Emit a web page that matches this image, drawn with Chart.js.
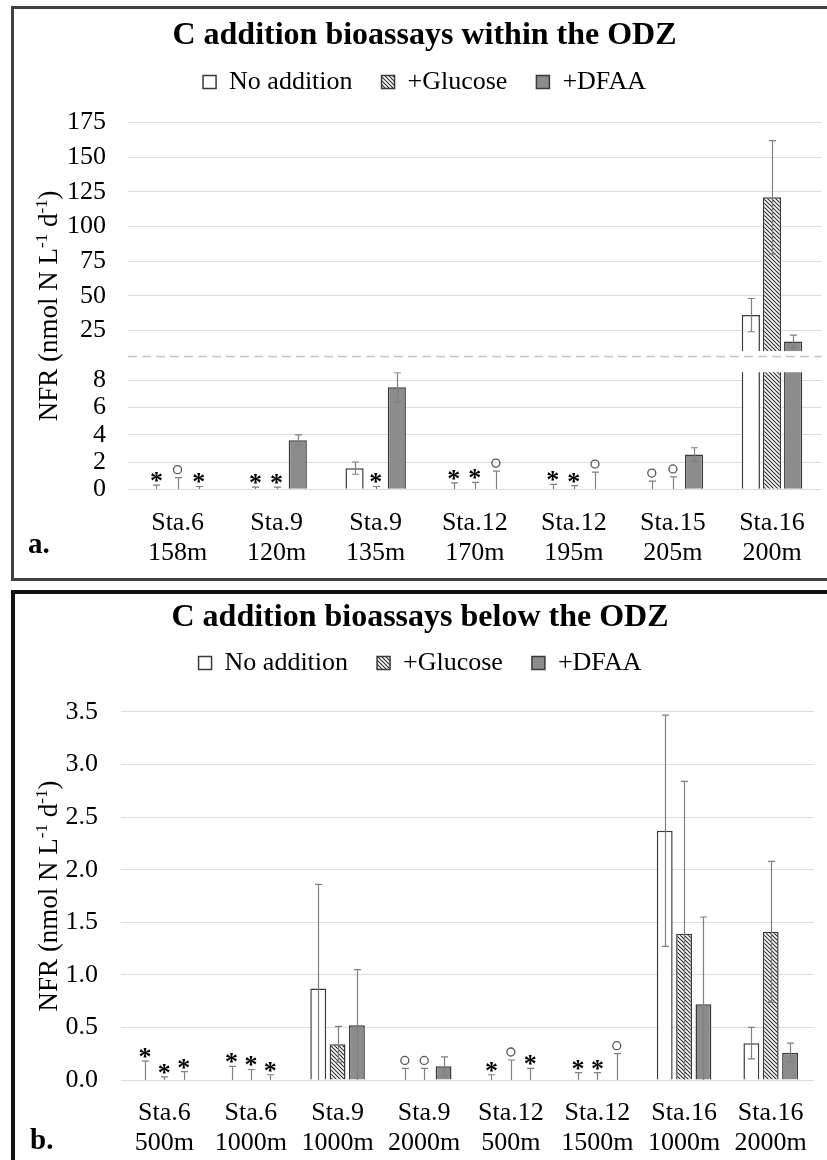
<!DOCTYPE html>
<html>
<head>
<meta charset="utf-8">
<script src="https://cdn.jsdelivr.net/npm/chart.js@4.4.1/dist/chart.umd.min.js"></script>
<style>
  body { margin: 0; background: #fff; width: 827px; height: 1160px; overflow: hidden; position: relative; }
  .panel { position: absolute; box-sizing: border-box; }
  #panelA { left: 11px; top: 6px; width: 830px; height: 575px; border: 3px solid #404040; }
  #panelB { left: 11px; top: 590px; width: 830px; height: 600px; border: 4px solid #111; }
  canvas { position: absolute; }
  #cA { left: 14px; top: 9px; }
  #cB { left: 15px; top: 594px; }
  .tag { position: absolute; font: bold 29px "Liberation Serif", serif; line-height: 1; color: #000; }
</style>
</head>
<body>
<div class="panel" id="panelA"></div>
<div class="panel" id="panelB"></div>
<canvas id="cA" width="810" height="569"></canvas>
<canvas id="cB" width="810" height="566"></canvas>
<div class="tag" style="left:28px; top:529px;">a.</div>
<div class="tag" style="left:30px; top:1125px;">b.</div>
<script>
const family = '"Liberation Serif", "Times New Roman", serif';
const seriesNames = ['No addition', '+Glucose', '+DFAA'];

// --- a. within the ODZ ---
const catsA = [['Sta.6', '158m'], ['Sta.9', '120m'], ['Sta.9', '135m'], ['Sta.12', '170m'],
               ['Sta.12', '195m'], ['Sta.15', '205m'], ['Sta.16', '200m']];
const noAddA     = [0, 0, 1.55, 0, 0, 0, 36];
const noAddErrA  = [0.3, 0.15, 0.45, 0.47, 0.35, 0.6, 12];
const noAddMarkA = ['*', '*', '', '*', '*', 'o', ''];
const glucoseA     = [0, 0, 0, 0, 0, 0, 121];
const glucoseErrA  = [0.85, 0.15, 0.2, 0.5, 0.27, 0.9, 41];
const glucoseMarkA = ['o', '*', '*', '*', '*', 'o', ''];
const dfaaA     = [0, 3.6, 7.5, 0, 0, 2.55, 17];
const dfaaErrA  = [0.2, 0.4, 1.07, 1.33, 1.26, 0.5, 4.6];
const dfaaMarkA = ['*', '', '', 'o', 'o', '', ''];
const ticksTopA = [25, 50, 75, 100, 125, 150, 175];
const ticksLowA = [0, 2, 4, 6, 8];

// --- b. below the ODZ ---
const catsB = [['Sta.6', '500m'], ['Sta.6', '1000m'], ['Sta.9', '1000m'], ['Sta.9', '2000m'],
               ['Sta.12', '500m'], ['Sta.12', '1500m'], ['Sta.16', '1000m'], ['Sta.16', '2000m']];
const noAddB     = [0, 0, 0.87, 0, 0, 0, 2.37, 0.35];
const noAddErrB  = [0.18, 0.13, 0.99, 0.11, 0.05, 0.07, 1.1, 0.15];
const noAddMarkB = ['*', '*', '', 'o', '*', '*', '', ''];
const glucoseB     = [0, 0, 0.34, 0, 0, 0, 1.39, 1.41];
const glucoseErrB  = [0.03, 0.1, 0.17, 0.11, 0.19, 0.07, 1.45, 0.67];
const glucoseMarkB = ['*', '*', '', 'o', 'o', '*', '', ''];
const dfaaB     = [0, 0, 0.52, 0.13, 0, 0, 0.72, 0.26];
const dfaaErrB  = [0.08, 0.05, 0.53, 0.09, 0.11, 0.25, 0.83, 0.09];
const dfaaMarkB = ['*', '*', '', '', '*', 'o', '', ''];
const ticksB = [0, 0.5, 1, 1.5, 2, 2.5, 3, 3.5];

// axis break for panel a
const lowMaxA = 8.6;
const topBaseA = 10;

function hatch() {
  const c = document.createElement('canvas');
  c.width = 4; c.height = 4;
  const g = c.getContext('2d');
  g.fillStyle = '#fff';
  g.fillRect(0, 0, 4, 4);
  g.strokeStyle = '#2b2b2b';
  g.lineWidth = 1.1;
  g.beginPath();
  g.moveTo(-1, -1); g.lineTo(5, 5);
  g.moveTo(3, -1); g.lineTo(5, 1);
  g.moveTo(-1, 3); g.lineTo(1, 5);
  g.stroke();
  return g.createPattern(c, 'repeat');
}
const fills = ['#ffffff', hatch(), '#8c8c8c'];

function bars(label, i, data, err, marks, axis, extra) {
  return Object.assign({
    label: label, data: data, err: err, marks: marks, yAxisID: axis, stack: 's' + i,
    backgroundColor: fills[i], borderColor: '#3a3a3a', borderWidth: 1.5
  }, extra || {});
}

// error bars and */o markers, each dataset clipped to its own y axis band
const errorBars = {
  id: 'errorBars',
  afterDatasetsDraw(chart) {
    const ctx = chart.ctx;
    const area = chart.chartArea;
    chart.data.datasets.forEach((ds, i) => {
      const meta = chart.getDatasetMeta(i);
      const ys = chart.scales[meta.yAxisID];
      ctx.save();
      ctx.beginPath();
      ctx.rect(area.left, ys.top, area.right - area.left, ys.bottom - ys.top);
      ctx.clip();
      ctx.strokeStyle = '#7f7f7f';
      ctx.lineWidth = 1.2;
      meta.data.forEach((bar, j) => {
        const v = ds.data[j];
        if (v === null || v === undefined) return;
        const e = ds.err[j];
        const lo = Math.max(0, v - e);
        const yHi = ys.getPixelForValue(v + e);
        const yLo = ys.getPixelForValue(lo);
        const x = Math.round(bar.x) + 0.5;
        ctx.beginPath();
        ctx.moveTo(x, yLo); ctx.lineTo(x, yHi);
        ctx.moveTo(x - 3.5, yHi); ctx.lineTo(x + 3.5, yHi);
        if (v > 0 && v - e > 0) { ctx.moveTo(x - 3.5, yLo); ctx.lineTo(x + 3.5, yLo); }
        ctx.stroke();
      });
      ctx.restore();
      (ds.marks || []).forEach((m, j) => {
        if (!m) return;
        const bar = meta.data[j];
        const cy = ys.getPixelForValue(ds.data[j] + ds.err[j]) - 8;
        ctx.save();
        if (m === '*') {
          ctx.font = 'bold 26px ' + family;
          ctx.fillStyle = '#000';
          ctx.textAlign = 'center';
          ctx.textBaseline = 'alphabetic';
          const t = ctx.measureText('*');
          ctx.fillText('*', bar.x, cy + (t.actualBoundingBoxAscent - t.actualBoundingBoxDescent) / 2);
        } else {
          ctx.strokeStyle = '#555';
          ctx.lineWidth = 1.3;
          ctx.beginPath();
          ctx.arc(bar.x, cy, 4, 0, Math.PI * 2);
          ctx.stroke();
        }
        ctx.restore();
      });
    });
  }
};

// rotated axis title with superscripts
const yTitle = {
  id: 'yTitle',
  afterDraw(chart, args, opts) {
    const ctx = chart.ctx;
    const parts = [['NFR (nmol N L', false], ['-1', true], [' d', false], ['-1', true], [')', false]];
    const big = '27px ' + family, small = '17px ' + family;
    let total = 0;
    parts.forEach(p => { ctx.font = p[1] ? small : big; total += ctx.measureText(p[0]).width; });
    const cy = (chart.scales[opts.topAxis].getPixelForValue(opts.topValue) +
                chart.scales[opts.bottomAxis].getPixelForValue(0)) / 2;
    ctx.save();
    ctx.translate(opts.x, cy);
    ctx.rotate(-Math.PI / 2);
    ctx.fillStyle = '#000';
    ctx.textAlign = 'left';
    ctx.textBaseline = 'alphabetic';
    let x = -total / 2;
    parts.forEach(p => {
      ctx.font = p[1] ? small : big;
      ctx.fillText(p[0], x, p[1] ? -1 : 9);
      x += ctx.measureText(p[0]).width;
    });
    ctx.restore();
  }
};

// dashed line marking the axis break
const breakLine = {
  id: 'breakLine',
  afterDraw(chart, args, opts) {
    if (!opts.axis) return;
    const ctx = chart.ctx;
    const y = Math.round(chart.scales[opts.axis].getPixelForValue(opts.value)) + 0.5;
    ctx.save();
    ctx.strokeStyle = '#c4c4c4';
    ctx.lineWidth = 1.5;
    ctx.setLineDash([9, 5]);
    ctx.beginPath();
    ctx.moveTo(chart.chartArea.left, y);
    ctx.lineTo(chart.chartArea.right, y);
    ctx.stroke();
    ctx.restore();
  }
};

const xAxis = (pad) => ({
  grid: { display: false, drawTicks: false },
  border: { display: false },
  ticks: { color: '#000', font: { family: family, size: 26, lineHeight: 1.15 }, padding: pad, autoSkip: false, maxRotation: 0 }
});
const yAxis = (extra, tickVals, width, pad, fmt) => Object.assign({
  position: 'left', stacked: false,
  afterBuildTicks: s => { s.ticks = tickVals.map(v => ({ value: v })); },
  afterFit: s => { s.width = width; },
  grid: { color: '#dcdcdc', drawTicks: false },
  border: { display: false },
  ticks: { color: '#000', font: { family: family, size: 26 }, padding: pad, autoSkip: false, callback: fmt || (v => v) }
}, extra);
const titleOpts = (text, top, bottom) => ({
  display: true, text: text, color: '#000',
  font: { family: family, size: 32, weight: 'bold' },
  padding: { top: top, bottom: bottom }
});
const legendOpts = {
  labels: { filter: item => item.datasetIndex < 3, color: '#000', font: { family: family, size: 26 },
            boxWidth: 13, boxHeight: 13, padding: 29 }
};

// panel a: each series twice, once per band of the broken axis
const rawA = [[noAddA, noAddErrA, noAddMarkA], [glucoseA, glucoseErrA, glucoseMarkA], [dfaaA, dfaaErrA, dfaaMarkA]];
const datasetsA = rawA.map((s, i) => bars(seriesNames[i], i, s[0], s[1], s[2], 'yLow'))
  .concat(rawA.map((s, i) => bars(seriesNames[i], i, s[0].map(v => v > lowMaxA ? v : null), s[1], [], 'yTop', { base: topBaseA })));

new Chart(document.getElementById('cA'), {
  type: 'bar',
  data: { labels: catsA, datasets: datasetsA },
  options: {
    responsive: false,
    animation: false,
    categoryPercentage: 0.64,
    barPercentage: 0.86,
    layout: { padding: { left: 13, right: 2, top: 0, bottom: -9 } },
    plugins: {
      title: titleOpts('C addition bioassays within the ODZ', 7.3, -14.6),
      legend: legendOpts,
      tooltip: { enabled: false },
      yTitle: { x: 34, topAxis: 'yTop', topValue: 175, bottomAxis: 'yLow' },
      breakLine: { axis: 'yTop', value: 6.2 }
    },
    scales: {
      x: xAxis(19),
      yLow: yAxis({ stack: 'a', stackWeight: 117, weight: 0, min: 0, max: lowMaxA }, ticksLowA, 101, 22),
      yTop: yAxis({ stack: 'a', stackWeight: 267.5, weight: 1, min: -5.3, max: 187.6 }, ticksTopA, 101, 22)
    }
  },
  plugins: [errorBars, yTitle, breakLine]
});

// panel b
const rawB = [[noAddB, noAddErrB, noAddMarkB], [glucoseB, glucoseErrB, glucoseMarkB], [dfaaB, dfaaErrB, dfaaMarkB]];
const datasetsB = rawB.map((s, i) => bars(seriesNames[i], i, s[0], s[1], s[2], 'y'));

new Chart(document.getElementById('cB'), {
  type: 'bar',
  data: { labels: catsB, datasets: datasetsB },
  options: {
    responsive: false,
    animation: false,
    categoryPercentage: 0.67,
    barPercentage: 0.82,
    layout: { padding: { left: 3, right: 3, top: 0, bottom: -15.8 } },
    plugins: {
      title: titleOpts('C addition bioassays below the ODZ', 4.8, -16.2),
      legend: legendOpts,
      tooltip: { enabled: false },
      yTitle: { x: 33, topAxis: 'y', topValue: 3.5, bottomAxis: 'y' },
      breakLine: {}
    },
    scales: {
      x: xAxis(18),
      y: yAxis({ min: 0, max: 3.747 }, ticksB, 103, 23, v => v.toFixed(1))
    }
  },
  plugins: [errorBars, yTitle, breakLine]
});
</script>
</body>
</html>
